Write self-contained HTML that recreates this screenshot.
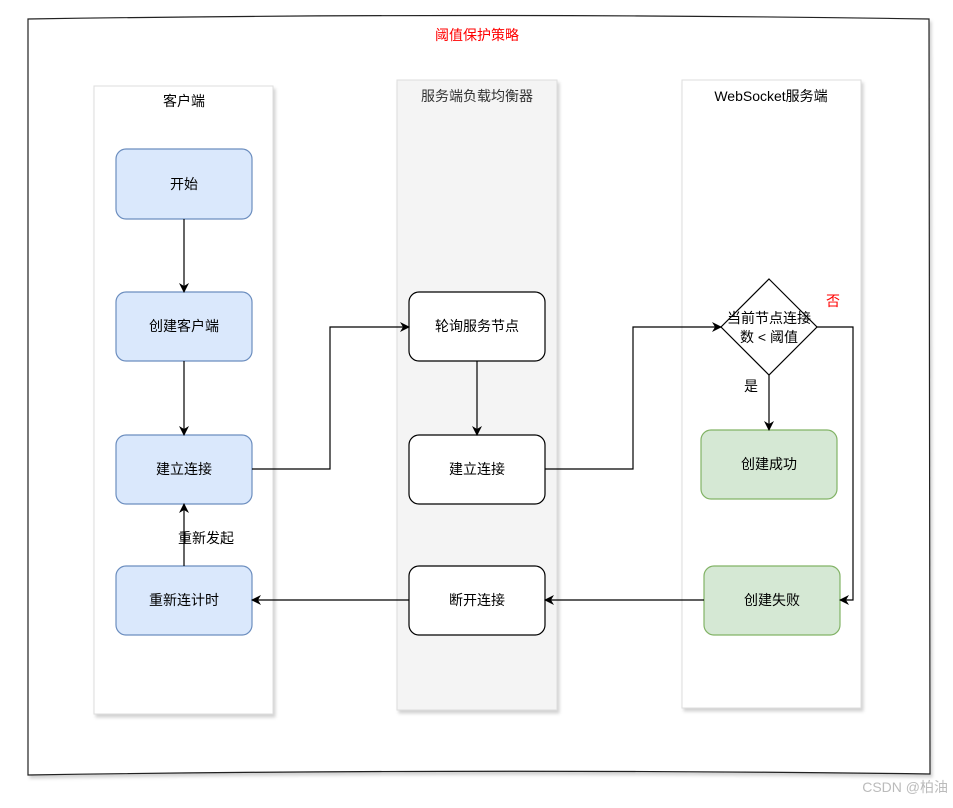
<!DOCTYPE html>
<html><head><meta charset="utf-8"><style>
body{margin:0;background:#fff;}
text{font-family:"Liberation Sans","Noto Sans CJK SC",sans-serif;font-size:14px;}
</style></head><body>
<svg width="953" height="803" viewBox="0 0 953 803" xmlns="http://www.w3.org/2000/svg">
<defs>
<marker id="a" markerWidth="10" markerHeight="10" refX="9" refY="5" orient="auto" markerUnits="userSpaceOnUse"><path d="M0,0 L10,5 L0,10 L3,5 Z" fill="#000"/></marker>
<filter id="s" x="-10%" y="-10%" width="130%" height="130%"><feDropShadow dx="2" dy="3" stdDeviation="1.5" flood-color="#000" flood-opacity="0.18"/></filter>
</defs>
<rect x="0" y="0" width="953" height="803" fill="#fff"/>
<path d="M28,19 Q480,12 929,19 L930,774 Q480,768 28,775 Z" fill="#fff" stroke="#222" stroke-width="1.2" filter="url(#s)"/>
<text x="477" y="40" text-anchor="middle" fill="#ff0000" font-size="13">阈值保护策略</text>
<rect x="94" y="86" width="179" height="628" fill="#fff" stroke="#ddd" filter="url(#s)"/>
<rect x="397" y="80" width="160" height="630" fill="#f4f4f4" stroke="#ddd" filter="url(#s)"/>
<rect x="682" y="80" width="179" height="628" fill="#fff" stroke="#ddd" filter="url(#s)"/>
<text x="184" y="106" text-anchor="middle">客户端</text>
<text x="477" y="101" text-anchor="middle" fill="#333">服务端负载均衡器</text>
<text x="771" y="101" text-anchor="middle">WebSocket服务端</text>
<g fill="#dae8fc" stroke="#6c8ebf" stroke-width="1.2">
<rect x="116" y="149" width="136" height="70" rx="10"/>
<rect x="116" y="292" width="136" height="69" rx="10"/>
<rect x="116" y="435" width="136" height="69" rx="10"/>
<rect x="116" y="566" width="136" height="69" rx="10"/>
</g>
<g fill="#fff" stroke="#000" stroke-width="1.2">
<rect x="409" y="292" width="136" height="69" rx="10"/>
<rect x="409" y="435" width="136" height="69" rx="10"/>
<rect x="409" y="566" width="136" height="69" rx="10"/>
<path d="M769,279 L817,327 L769,375 L721,327 Z"/>
</g>
<g fill="#d5e8d4" stroke="#82b366" stroke-width="1.2">
<rect x="701" y="430" width="136" height="69" rx="10"/>
<rect x="704" y="566" width="136" height="69" rx="10"/>
</g>
<g text-anchor="middle">
<text x="184" y="189">开始</text>
<text x="184" y="331">创建客户端</text>
<text x="184" y="474">建立连接</text>
<text x="184" y="605">重新连计时</text>
<text x="477" y="331">轮询服务节点</text>
<text x="477" y="474">建立连接</text>
<text x="477" y="605">断开连接</text>
<text x="769" y="323">当前节点连接</text>
<text x="769" y="342">数 &lt; 阈值</text>
<text x="769" y="469">创建成功</text>
<text x="772" y="605">创建失败</text>
<text x="751" y="391">是</text>
<text x="833" y="306" fill="#ff0000">否</text>
<text x="206" y="543">重新发起</text>
</g>
<g fill="none" stroke="#000" stroke-width="1.2" marker-end="url(#a)">
<path d="M184,219 L184,292"/>
<path d="M184,361 L184,435"/>
<path d="M252,469 L330,469 L330,327 L409,327"/>
<path d="M477,361 L477,435"/>
<path d="M545,469 L633,469 L633,327 L721,327"/>
<path d="M817,327 L853,327 L853,600 L840,600"/>
<path d="M769,375 L769,430"/>
<path d="M704,600 L545,600"/>
<path d="M409,600 L252,600"/>
<path d="M184,566 L184,504"/>
</g>
<text x="948" y="792" text-anchor="end" fill="#bbb" font-size="15">CSDN @柏油</text>
</svg>
</body></html>
